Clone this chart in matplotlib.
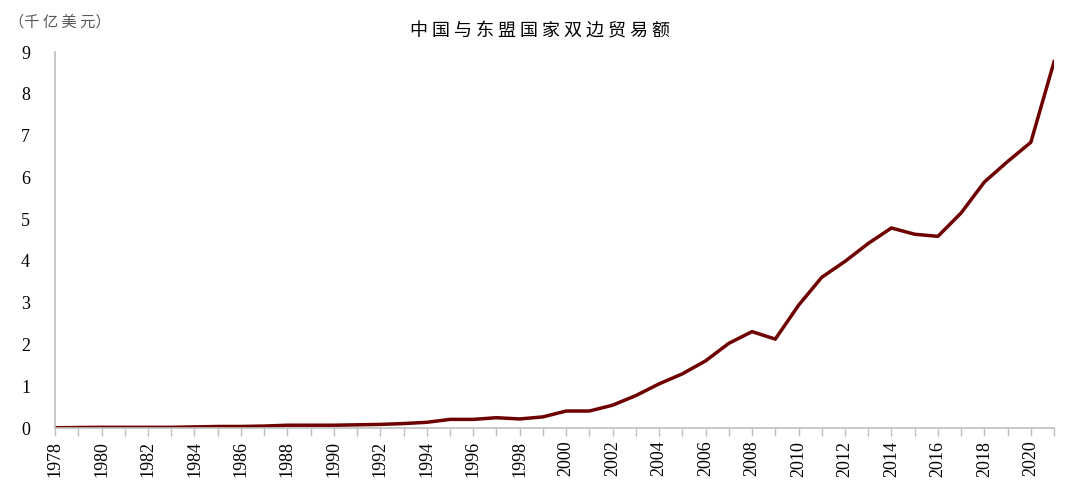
import matplotlib
matplotlib.use('Agg')
import matplotlib.pyplot as plt

# data: China-ASEAN bilateral trade, hundred billion USD
years = list(range(1978, 2022))
trade = [0.01, 0.015, 0.02, 0.02, 0.02, 0.02, 0.03, 0.04, 0.04, 0.05,
         0.07, 0.07, 0.07, 0.08, 0.09, 0.11, 0.14, 0.21, 0.21, 0.25,
         0.22, 0.27, 0.41, 0.41, 0.55, 0.78, 1.06, 1.30, 1.61, 2.03,
         2.31, 2.13, 2.94, 3.61, 3.99, 4.42, 4.79, 4.64, 4.59, 5.15,
         5.89, 6.38, 6.84, 8.77]
yticks = list(range(0, 10))

plt.rcParams['font.family'] = ['Liberation Serif', 'Noto Sans CJK SC']

fig = plt.figure(figsize=(10.8, 4.91), dpi=100)
ax = fig.add_axes([0.051, 0.128, 0.925, 0.766])

ax.plot(years, trade, color='#6e0000', lw=2.5, solid_joinstyle='round')

ax.set_xlim(1978, 2021)
ax.set_ylim(0, 9)
ax.set_xticks(years)
ax.set_xticklabels([str(y) if (y - 1978) % 2 == 0 else '' for y in years],
                   rotation=90, fontsize=13)
ax.set_yticks(yticks)
ax.set_yticklabels([str(v) for v in yticks], fontsize=13)

for s in ['top', 'right']:
    ax.spines[s].set_visible(False)
for s in ['left', 'bottom']:
    ax.spines[s].set_color('#bfbfbf')
    ax.spines[s].set_linewidth(1.2)
ax.tick_params(axis='x', direction='out', length=6, color='#bfbfbf', width=1, pad=3)
ax.tick_params(axis='y', length=0, pad=18)

fig.text(0.5, 0.937, '中 国 与 东 盟 国 家 双 边 贸 易 额', ha='center', va='center',
         fontsize=13, family=['Noto Sans CJK SC'])
fig.text(0.008, 0.955, '（千 亿 美 元）', ha='left', va='center',
         fontsize=11, color='#595959', family=['Noto Sans CJK SC'])

fig.savefig('out.png', dpi=100)
